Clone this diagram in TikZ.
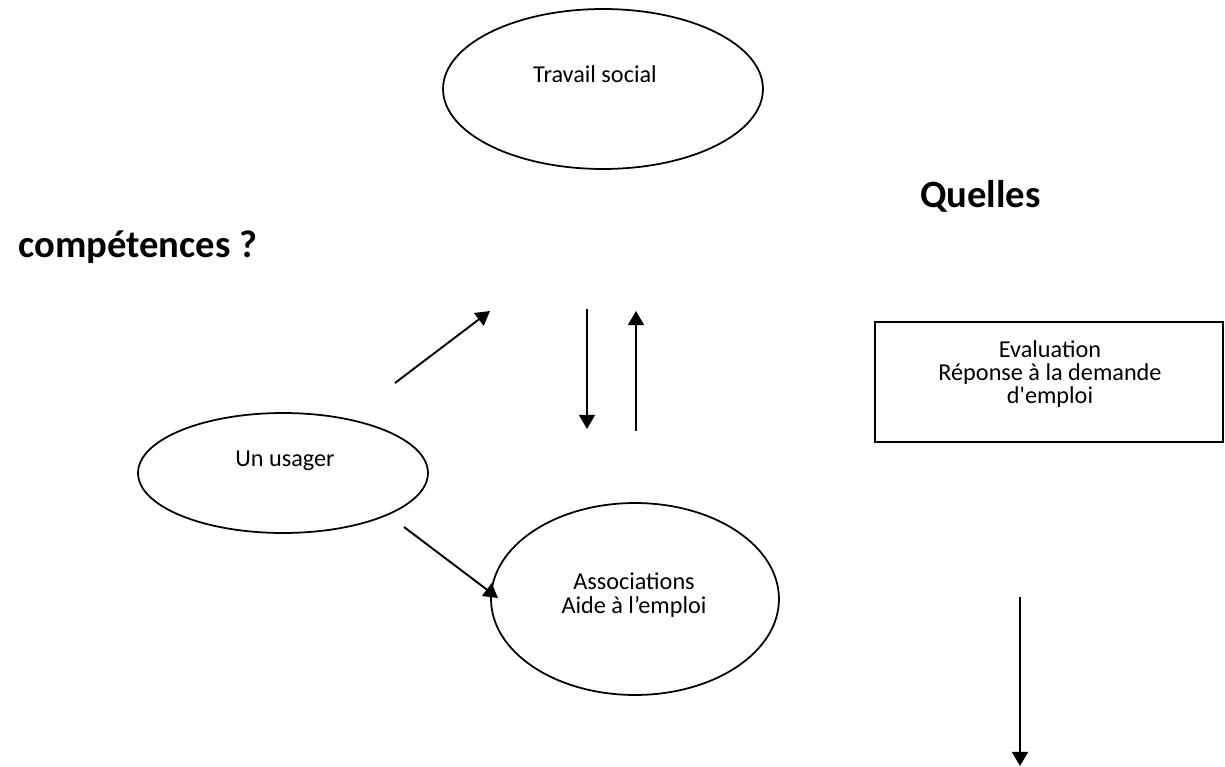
\documentclass[tikz,border=0pt]{standalone}
\usepackage{fontspec}
\setmainfont{Carlito}
\usetikzlibrary{shapes.geometric}
\usetikzlibrary{arrows.meta}

\begin{document}
\begin{tikzpicture}[x=0.02cm,y=-0.02cm,
  bulle/.style={draw,ellipse,line width=1pt,inner sep=0pt},
  cadre/.style={draw,rectangle,line width=1.1pt},
  texte/.style={font=\fontsize{13.8}{13.3}\selectfont,align=center},
  titre/.style={font=\fontsize{22}{26}\selectfont\bfseries},
  fleche/.style={line width=1.1pt,-{Triangle[length=8pt,width=9pt]}}]
  \useasboundingbox (0,0) rectangle (1225,767);
  \node[bulle,minimum width=6.4cm,minimum height=3.2cm] (travail) at (603,89) {};
  \node[texte,anchor=base] (travailtxt) at (595,83) {Travail social};
  \node[bulle,minimum width=5.8cm,minimum height=2.4cm] (usager) at (283,473) {};
  \node[texte,anchor=base] (usagertxt) at (285,466) {Un usager};
  \node[bulle,minimum width=5.76cm,minimum height=3.84cm] (assoc) at (635,599) {};
  \node[texte] (assoctxt) at (634,595) {Associations\\Aide à l’emploi};
  \node[cadre,minimum width=6.96cm,minimum height=2.4cm] (eval) at (1049,382) {};
  \node[texte] (evaltxt) at (1050,374) {Evaluation\\Réponse à la demande\\d\textquotesingle emploi};
  \node[titre,anchor=base west] (quelles) at (914,208) {Quelles};
  \node[titre,anchor=base west] (compet) at (12,257) {compétences ?};
  \coordinate (m1) at (395,383);
  \coordinate (m2) at (490,311);
  \coordinate (d1) at (587,309);
  \coordinate (d2) at (587,429);
  \coordinate (r1) at (636,431);
  \coordinate (r2) at (636,311);
  \coordinate (u1) at (404,527);
  \coordinate (u2) at (498,598);
  \coordinate (e1) at (1020,597);
  \coordinate (e2) at (1020,766);
  \draw[fleche] (m1) -- (m2);
  \draw[fleche] (d1) -- (d2);
  \draw[fleche] (r1) -- (r2);
  \draw[fleche] (u1) -- (u2);
  \draw[fleche] (e1) -- (e2);
\end{tikzpicture}
\end{document}
